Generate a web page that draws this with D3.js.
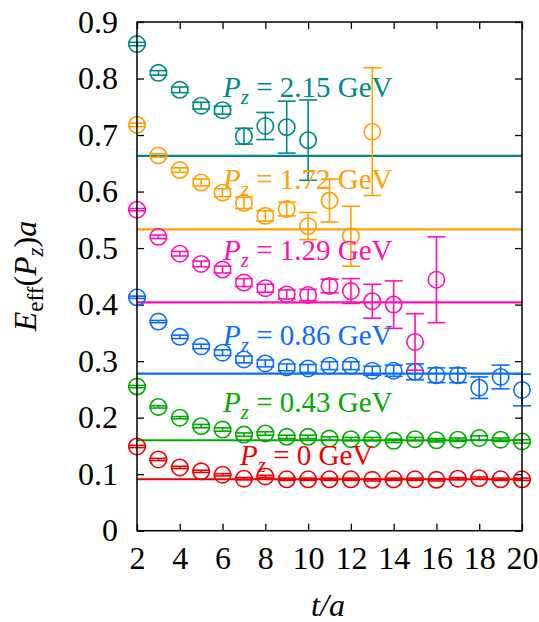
<!DOCTYPE html>
<html>
<head>
<meta charset="utf-8">
<script src="https://cdn.jsdelivr.net/npm/d3@7"></script>
<style>
  body { margin: 0; background: #fff; }
  svg text { font-family: "Liberation Serif", "Times New Roman", "DejaVu Serif", serif; }
</style>
</head>
<body>
<svg id="chart" width="539" height="622"></svg>
<script>
// data
var labels = ["0", "0.43", "0.86", "1.29", "1.72", "2.15"];
var colors = ["#ee0000", "#00aa00", "#0a6cff", "#ff10b0", "#ffa000", "#008888"];
var fits = [0.091, 0.160, 0.278, 0.404, 0.533, 0.663];

var tRed = d3.range(2, 21);
var vRed = [0.149,0.126,0.112,0.105,0.099,0.092,0.096,0.091,0.091,0.091,0.091,0.090,0.091,0.091,0.090,0.092,0.093,0.091,0.091];
var eRed = [0.002,0.002,0.002,0.002,0.002,0.002,0.002,0.002,0.002,0.002,0.002,0.002,0.002,0.002,0.002,0.002,0.002,0.002,0.002];

var tGreen = d3.range(2, 21);
var vGreen = [0.255,0.219,0.200,0.185,0.179,0.170,0.172,0.166,0.166,0.163,0.162,0.162,0.159,0.162,0.160,0.161,0.164,0.161,0.158];
var eGreen = [0.002,0.002,0.002,0.003,0.003,0.003,0.003,0.003,0.003,0.003,0.003,0.003,0.003,0.003,0.003,0.003,0.004,0.003,0.003];

var tBlue = d3.range(2, 21);
var vBlue = [0.413,0.370,0.343,0.326,0.315,0.303,0.296,0.289,0.287,0.292,0.292,0.283,0.283,0.281,0.275,0.275,0.253,0.272,0.249];
var eBlue = [0.002,0.002,0.003,0.004,0.005,0.006,0.006,0.006,0.007,0.007,0.007,0.008,0.010,0.014,0.013,0.013,0.019,0.021,0.028];

var tMag = d3.range(2, 17);
var vMag = [0.568,0.520,0.490,0.472,0.462,0.439,0.429,0.418,0.417,0.433,0.424,0.406,0.400,0.334,0.444];
var eMag = [0.002,0.003,0.004,0.005,0.006,0.007,0.007,0.008,0.010,0.012,0.022,0.030,0.042,0.050,0.076];

var tOrange = d3.range(2, 14);
var vOrange = [0.718,0.664,0.638,0.616,0.598,0.580,0.557,0.569,0.539,0.584,0.521,0.706];
var eOrange = [0.003,0.003,0.004,0.006,0.007,0.010,0.009,0.012,0.024,0.038,0.053,0.113];

var tTeal = d3.range(2, 11);
var vTeal = [0.861,0.810,0.780,0.752,0.744,0.698,0.716,0.714,0.691];
var eTeal = [0.003,0.004,0.005,0.006,0.007,0.014,0.024,0.046,0.071];

var xTicks = d3.range(2, 21, 2);
var yTicks = d3.range(0, 10).map(function(i) { return i / 10; });

var series = [
  [tRed, vRed, eRed],
  [tGreen, vGreen, eGreen],
  [tBlue, vBlue, eBlue],
  [tMag, vMag, eMag],
  [tOrange, vOrange, eOrange],
  [tTeal, vTeal, eTeal]
];

// label placement (pixels)
var labelX = [240, 223, 223, 223, 223, 223];
var labelY = [465, 412, 345, 260, 189, 97];

var svg = d3.select("#chart");
var pLeft = 137, pRight = 522, pTop = 22, pBottom = 530.7;
var serif = "'Liberation Serif', 'Times New Roman', serif";

var x = d3.scaleLinear().domain([2, 20]).range([pLeft, pRight]);
var y = d3.scaleLinear().domain([0, 0.9]).range([pBottom, pTop]);

// axes with inward ticks
svg.append("g").attr("transform", "translate(0," + pBottom + ")")
  .call(d3.axisBottom(x).tickValues(xTicks).tickSize(-7).tickPadding(16))
  .call(function(g) { g.select(".domain").remove(); });
svg.append("g").attr("transform", "translate(0," + pTop + ")")
  .call(d3.axisTop(x).tickValues(xTicks).tickSize(-7).tickFormat(""))
  .call(function(g) { g.select(".domain").remove(); });
svg.append("g").attr("transform", "translate(" + pLeft + ",0)")
  .call(d3.axisLeft(y).tickValues(yTicks).tickSize(-7).tickPadding(19)
    .tickFormat(function(d) { return d === 0 ? "0" : d3.format(".1f")(d); }))
  .call(function(g) { g.select(".domain").remove(); });
svg.append("g").attr("transform", "translate(" + pRight + ",0)")
  .call(d3.axisRight(y).tickValues(yTicks).tickSize(-7).tickFormat(""))
  .call(function(g) { g.select(".domain").remove(); });

svg.selectAll("g").attr("font-family", serif);
svg.selectAll(".tick line").attr("stroke", "#000").attr("stroke-width", 1.3);
svg.selectAll(".tick text").attr("font-size", 32).attr("fill", "#000");

// fit lines
fits.forEach(function(f, i) {
  svg.append("line")
    .attr("x1", x(2)).attr("x2", x(20))
    .attr("y1", y(f)).attr("y2", y(f))
    .attr("stroke", colors[i]).attr("stroke-width", 2.2);
});

// points with error bars
series.forEach(function(s, i) {
  var pts = s[0].map(function(t, j) { return { t: t, v: s[1][j], e: s[2][j] }; });
  var g = svg.append("g").attr("stroke", colors[i]).attr("fill", "none").attr("stroke-width", 1.6);
  g.selectAll(".bar").data(pts).enter().append("line")
    .attr("x1", function(d) { return x(d.t); }).attr("x2", function(d) { return x(d.t); })
    .attr("y1", function(d) { return y(d.v - d.e); }).attr("y2", function(d) { return y(d.v + d.e); });
  [-1, 1].forEach(function(sg) {
    g.selectAll(".cap" + sg).data(pts).enter().append("line")
      .attr("x1", function(d) { return x(d.t) - 9; }).attr("x2", function(d) { return x(d.t) + 9; })
      .attr("y1", function(d) { return y(d.v + sg * d.e); }).attr("y2", function(d) { return y(d.v + sg * d.e); });
  });
  g.selectAll("circle").data(pts).enter().append("circle")
    .attr("cx", function(d) { return x(d.t); })
    .attr("cy", function(d) { return y(d.v); })
    .attr("r", 8.2);
});

// series labels
labels.forEach(function(l, i) {
  var t = svg.append("text").attr("x", labelX[i]).attr("y", labelY[i])
    .attr("fill", colors[i]).attr("font-size", 29).attr("font-family", serif);
  t.append("tspan").attr("font-style", "italic").text("P");
  t.append("tspan").attr("font-style", "italic").attr("font-size", 21).attr("dy", 7).text("z");
  t.append("tspan").attr("dy", -7).text(" = " + l + " GeV");
});

// frame
svg.append("rect").attr("x", pLeft).attr("y", pTop)
  .attr("width", pRight - pLeft).attr("height", pBottom - pTop)
  .attr("fill", "none").attr("stroke", "#000").attr("stroke-width", 1.5);

// axis titles
svg.append("text").attr("x", 328).attr("y", 616).attr("text-anchor", "middle")
  .attr("font-family", serif).attr("font-size", 32).attr("font-style", "italic").text("t/a");

var yt = svg.append("text").attr("transform", "translate(36,276) rotate(-90)")
  .attr("text-anchor", "middle").attr("font-size", 32).attr("font-family", serif);
yt.append("tspan").attr("font-style", "italic").text("E");
yt.append("tspan").attr("font-size", 23).attr("dy", 7).text("eff");
yt.append("tspan").attr("dy", -7).text("(");
yt.append("tspan").attr("font-style", "italic").text("P");
yt.append("tspan").attr("font-style", "italic").attr("font-size", 23).attr("dy", 7).text("z");
yt.append("tspan").attr("dy", -7).text(")");
yt.append("tspan").attr("font-style", "italic").text("a");
</script>
</body>
</html>
